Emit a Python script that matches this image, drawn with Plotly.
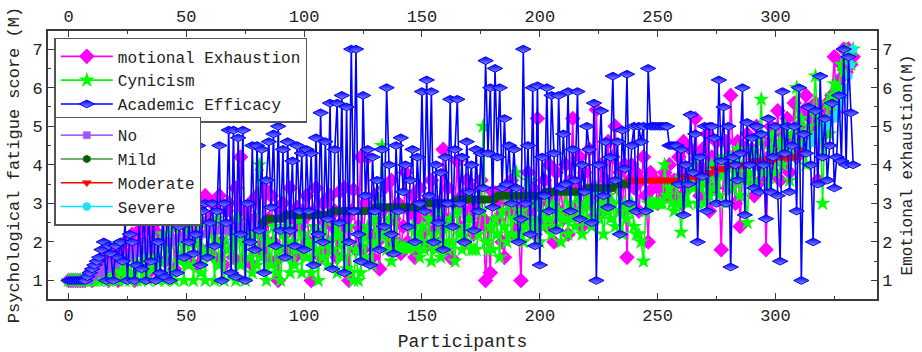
import plotly.graph_objects as go

# ---------------- data ----------------
x_ticks = [0, 50, 100, 150, 200, 250, 300]
y_ticks = [1, 2, 3, 4, 5, 6, 7]

emotional_exhaustion = [
    1.0, 1.0, 1.0, 1.0, 1.0, 1.0, 1.0, 1.0, 1.1, 1.2,
    1.0, 1.3, 1.1, 1.4, 1.2, 1.6, 1.3, 1.0, 1.7, 1.2,
    1.5, 1.0, 1.8, 1.3, 2.0, 1.2, 1.7, 2.2, 1.0, 1.9,
    2.3, 1.4, 2.0, 2.6, 1.2, 2.4, 1.6, 2.8, 2.2, 3.0,
    3.3, 1.5, 2.6, 2.0, 3.0, 1.3, 2.4, 2.8, 1.6, 3.0,
    2.2, 1.5, 2.7, 2.0, 3.1, 1.4, 2.5, 3.0, 3.2, 1.8,
    2.6, 3.0, 1.6, 2.4, 3.2, 2.0, 1.4, 2.8, 3.0, 2.3,
    1.6, 3.4, 2.6, 4.2, 1.5, 2.8, 2.2, 3.0, 1.4, 2.6,
    3.2, 1.8, 2.4, 3.4, 1.6, 2.6, 3.2, 2.0, 1.5, 1.0,
    2.8, 3.0, 2.2, 1.8, 3.4, 2.6, 1.6, 2.9, 2.4, 1.8,
    2.6, 3.2, 2.0, 1.0, 2.8, 3.4, 2.2, 1.6, 3.0, 2.5,
    1.8, 3.2, 2.4, 2.8, 1.6, 3.3, 2.0, 3.4, 2.6, 1.0,
    2.8, 3.35, 1.8, 2.4, 4.2, 1.8, 3.0, 4.2, 2.2, 1.6,
    3.2, 2.0, 1.3, 2.8, 3.4, 2.2, 1.8, 3.6, 2.6, 2.0,
    3.0, 1.7, 2.4, 3.8, 2.0, 2.8, 3.2, 1.6, 2.6, 3.4,
    2.2, 3.0, 1.9, 2.6, 3.6, 2.3, 2.8, 3.0, 2.0, 4.4,
    2.6, 3.4, 1.6, 1.55, 3.0, 4.1, 2.4, 3.2, 2.0, 3.6,
    2.8, 3.4, 2.2, 3.0, 2.4, 3.6, 2.6, 1.0, 2.4, 1.2,
    3.3, 3.27, 2.6, 3.0, 2.0, 1.6, 3.4, 2.8, 3.6, 2.2,
    3.0, 2.4, 1.0, 3.2, 2.6, 3.8, 2.8, 3.4, 2.2, 5.2,
    3.0, 2.6, 3.6, 2.4, 4.0, 3.2, 2.0, 3.8, 2.8, 3.4,
    2.6, 4.0, 2.2, 3.6, 5.2, 2.8, 3.4, 4.2, 2.4, 3.8,
    3.0, 4.4, 2.6, 3.4, 5.43, 3.2, 4.0, 2.8, 3.6, 4.6,
    3.0, 4.2, 5.0, 3.4, 3.8, 2.8, 4.0, 1.6, 3.6, 4.0,
    3.4, 3.8, 2.8, 3.6, 4.2, 3.2, 2.0, 3.8, 3.4, 3.6,
    3.0, 3.4, 3.6, 3.8, 3.2, 4.0, 3.4, 3.6, 3.2, 4.2,
    3.0, 4.6, 3.8, 3.4, 4.4, 3.6, 5.2, 4.0, 3.2, 4.4,
    3.6, 4.8, 2.8, 4.2, 3.4, 4.6, 3.8, 1.8, 4.0, 4.6,
    3.4, 5.8, 4.2, 3.0, 4.6, 2.4, 3.8, 4.4, 4.8, 3.6,
    4.4, 3.2, 5.0, 4.0, 3.6, 4.6, 1.8, 4.2, 5.0, 3.8,
    4.4, 5.4, 3.6, 4.8, 4.0, 5.2, 3.8, 4.6, 5.6, 4.2,
    5.0, 4.4, 5.4, 5.8, 4.6, 5.2, 4.8, 5.6, 3.6, 5.0,
    5.4, 4.8, 5.6, 5.2, 5.8, 6.8, 5.4, 6.2, 6.6, 7.0,
    6.4, 7.0, 6.6, 6.8,
]

cynicism = [
    1.0, 1.0, 1.0, 1.0, 1.0, 1.0, 1.0, 1.0, 1.0, 1.0,
    1.0, 1.0, 1.1, 1.0, 1.2, 1.0, 1.3, 1.0, 1.2, 1.0,
    1.4, 1.0, 1.2, 1.5, 1.0, 1.3, 1.0, 1.6, 1.2, 1.0,
    1.4, 1.0, 1.8, 1.2, 1.0, 1.6, 1.3, 2.0, 1.0, 1.5,
    2.2, 1.0, 1.8, 2.4, 1.2, 1.0, 2.6, 1.5, 2.0, 1.0,
    2.4, 1.4, 2.8, 1.0, 2.0, 2.6, 1.2, 1.8, 1.0, 2.4,
    1.6, 2.2, 1.0, 2.6, 1.4, 2.0, 1.0, 2.4, 1.8, 1.2,
    2.2, 1.0, 2.6, 1.4, 2.0, 1.0, 2.4, 1.6, 1.2, 2.2,
    1.4, 4.0, 1.6, 2.2, 1.0, 2.0, 1.4, 2.4, 1.2, 1.8,
    1.0, 2.2, 1.6, 2.4, 1.2, 2.0, 1.4, 1.8, 2.6, 1.2,
    2.2, 1.6, 2.0, 1.2, 2.4, 1.8, 1.0, 2.2, 1.6, 2.6,
    1.4, 2.0, 1.8, 2.4, 1.2, 2.2, 1.6, 2.0, 1.3, 2.4,
    1.2, 1.0, 1.8, 1.0, 1.2, 2.2, 1.6, 2.4, 2.0, 1.4,
    2.6, 2.0, 3.0, 4.5, 2.2, 1.8, 2.6, 1.5, 2.0, 2.8,
    1.8, 1.85, 1.85, 1.85, 1.85, 1.85, 2.4, 1.85, 2.2, 1.6,
    2.4, 1.8, 2.0, 2.6, 1.5, 2.2, 1.8, 2.8, 1.6, 2.0,
    2.4, 1.8, 2.6, 2.0, 1.5, 2.8, 2.2, 1.8, 2.4, 2.0,
    2.6, 1.8, 1.8, 1.8, 2.2, 2.8, 5.0, 2.0, 1.8, 2.4,
    1.8, 2.6, 2.2, 1.6, 2.8, 2.4, 2.0, 3.0, 2.2, 2.6,
    3.8, 2.2, 2.8, 2.0, 2.4, 3.6, 2.6, 2.2, 3.0, 2.4,
    2.0, 2.8, 2.4, 3.2, 2.6, 2.2, 3.0, 2.4, 2.8, 2.0,
    2.6, 3.4, 2.2, 3.0, 2.6, 2.4, 3.2, 2.8, 2.2, 3.0,
    2.6, 3.2, 2.4, 2.8, 3.4, 2.6, 3.0, 2.2, 2.8, 3.2,
    2.6, 3.0, 2.4, 3.6, 2.8, 2.2, 3.0, 2.6, 2.8, 3.0,
    2.4, 2.2, 2.2, 2.0, 1.5, 2.8, 3.0, 3.0, 3.0, 3.0,
    3.0, 3.0, 3.0, 4.0, 3.2, 3.4, 3.0, 2.8, 3.6, 3.0,
    2.25, 3.2, 3.6, 3.0, 3.8, 3.4, 4.2, 3.0, 3.4, 3.6,
    3.0, 3.8, 3.2, 4.0, 3.4, 3.6, 3.2, 4.2, 3.8, 3.0,
    3.6, 4.2, 3.4, 3.8, 4.4, 3.2, 4.0, 3.6, 2.5, 3.8,
    4.4, 3.6, 4.2, 4.6, 5.7, 3.8, 4.0, 3.5, 4.4, 4.8,
    3.8, 4.2, 4.6, 4.0, 5.0, 4.4, 3.6, 4.8, 4.2, 6.0,
    4.6, 5.2, 4.4, 4.0, 5.0, 4.6, 5.4, 6.3, 4.8, 5.2,
    3.0, 5.0, 5.6, 4.8, 5.8, 6.1, 5.4, 6.0, 6.6, 6.4,
    7.0, 6.8, 6.6, 7.0,
]

academic_efficacy = [
    1.0, 1.0, 1.0, 1.0, 1.0, 1.0, 1.0, 1.0, 1.1, 1.2,
    1.3, 1.4, 1.5, 1.6, 1.8, 2.0, 1.0, 1.9, 1.7, 1.0,
    1.9, 1.6, 2.0, 1.5, 2.5, 1.0, 2.2, 2.0, 1.0, 1.4,
    2.5, 1.3, 3.0, 1.0, 2.7, 1.5, 2.6, 1.0, 2.0, 1.2,
    2.7, 1.1, 3.3, 1.0, 2.6, 3.4, 1.2, 2.4, 4.2, 1.6,
    4.2, 2.0, 3.0, 1.7, 2.2, 4.5, 1.4, 2.8, 3.0, 1.6,
    2.5, 3.0, 1.9, 2.8, 4.5, 1.0, 3.0, 2.5, 4.9, 1.2,
    4.9, 1.1, 4.7, 2.2, 4.9, 1.0, 3.0, 2.0, 4.5, 1.8,
    4.5, 2.3, 4.4, 1.2, 3.6, 4.6, 2.9, 4.8, 1.9, 5.0,
    2.3, 4.4, 1.6, 4.6, 2.3, 4.1, 1.9, 4.5, 2.8, 4.3,
    1.8, 4.4, 2.8, 4.3, 1.4, 4.7, 2.2, 5.35, 2.0, 4.6,
    2.6, 5.6, 1.3, 4.4, 5.6, 2.5, 5.8, 1.2, 5.5, 2.0,
    7.0, 2.8, 7.0, 2.2, 1.5, 5.8, 3.2, 4.4, 1.4, 4.2,
    2.8, 3.6, 1.8, 4.4, 2.4, 6.0, 4.0, 2.2, 1.7, 4.5,
    2.8, 4.7, 3.3, 4.0, 2.4, 3.6, 4.4, 2.0, 4.2, 3.0,
    5.9, 2.8, 6.2, 3.2, 5.9, 2.0, 4.0, 2.5, 3.8, 1.8,
    4.2, 3.0, 5.7, 2.4, 4.4, 5.7, 3.0, 4.2, 2.0, 4.6,
    3.3, 4.0, 2.3, 4.4, 2.8, 4.3, 3.4, 6.7, 4.3, 6.0,
    2.9, 6.5, 4.2, 6.0, 3.4, 5.2, 3.5, 4.5, 3.0, 4.4,
    3.4, 2.0, 2.6, 7.0, 3.0, 4.5, 2.2, 6.0, 1.9, 6.05,
    1.4, 4.2, 3.2, 6.0, 2.8, 5.8, 4.3, 2.3, 5.8, 3.4,
    4.8, 3.5, 5.9, 2.8, 4.4, 3.6, 5.9, 2.6, 4.0, 3.3,
    5.0, 4.4, 2.5, 5.6, 1.0, 4.0, 5.4, 3.2, 4.6, 2.9,
    4.2, 6.3, 3.6, 4.6, 2.2, 4.9, 3.9, 6.35, 3.0, 4.5,
    5.0, 2.8, 5.0, 4.6, 5.0, 2.8, 6.5, 5.0, 5.0, 5.0,
    5.0, 5.0, 5.0, 5.0, 5.0, 4.5, 4.5, 4.5, 4.5, 3.5,
    4.4, 2.7, 4.0, 3.5, 5.3, 3.8, 4.8, 2.0, 4.2, 3.7,
    5.0, 2.8, 5.0, 5.0, 4.7, 3.0, 6.2, 4.1, 5.5, 3.0,
    5.0, 1.35, 4.2, 4.0, 3.6, 4.3, 6.0, 2.7, 5.1, 4.0,
    4.7, 3.4, 5.0, 3.3, 4.8, 4.0, 2.6, 5.2, 3.3, 4.2,
    5.0, 3.2, 1.5, 5.9, 4.3, 5.0, 3.3, 4.5, 5.0, 2.8,
    6.0, 1.0, 4.8, 4.3, 5.5, 4.0, 2.0, 5.4, 3.5, 6.3,
    4.2, 5.2, 3.6, 4.5, 5.6, 3.4, 4.2, 5.8, 4.1, 7.0,
    4.0, 6.8, 5.35, 4.0,
]

# sorted emotional exhaustion, split by severity group (right axis)
ee_no = [
    1.0, 1.0, 1.0, 1.0, 1.0, 1.0, 1.0, 1.0, 1.0, 1.0,
    1.1, 1.1, 1.2, 1.2, 1.2, 1.3, 1.3, 1.3, 1.4, 1.4,
    1.4, 1.5, 1.5, 1.5, 1.6, 1.6, 1.6, 1.7, 1.7, 1.7,
    1.8, 1.8, 1.8, 1.8, 1.9, 1.9, 1.9, 1.9, 2.0, 2.0,
    2.0, 2.0, 2.0, 2.0, 2.0, 2.1, 2.1, 2.1, 2.1, 2.1,
    2.1, 2.1, 2.2, 2.2, 2.2, 2.2, 2.2, 2.2, 2.2, 2.3,
    2.3, 2.3, 2.3, 2.3, 2.3, 2.3, 2.3, 2.3, 2.3, 2.4,
    2.4, 2.4, 2.4, 2.4, 2.4, 2.4, 2.4, 2.4, 2.4, 2.4,
    2.4, 2.4,
]
ee_mild = [
    2.5, 2.5, 2.6, 2.6, 2.6, 2.6, 2.6, 2.6,
    2.6, 2.6, 2.7, 2.7, 2.7, 2.7, 2.7, 2.7, 2.7, 2.7,
    2.7, 2.7, 2.7, 2.7, 2.7, 2.7, 2.7, 2.7, 2.7, 2.7,
    2.7, 2.7, 2.8, 2.8, 2.8, 2.8, 2.8, 2.8, 2.8, 2.8,
    2.8, 2.8, 2.8, 2.8, 2.8, 2.8, 2.8, 2.8, 2.8, 2.8,
    2.9, 2.9, 2.9, 2.9, 2.9, 2.9, 2.9, 2.9, 2.9, 2.9,
    2.9, 2.9, 2.9, 2.9, 2.9, 2.9, 2.9, 2.9, 2.9, 2.9,
    3.0, 3.0, 3.0, 3.0, 3.0, 3.0, 3.0, 3.0, 3.0, 3.0,
    3.0, 3.0, 3.0, 3.0, 3.0, 3.1, 3.1, 3.1, 3.1, 3.1,
    3.1, 3.1, 3.1, 3.1, 3.1, 3.1, 3.1, 3.1, 3.1, 3.1,
    3.1, 3.1, 3.2, 3.2, 3.2, 3.2, 3.2, 3.2, 3.2, 3.2,
    3.2, 3.2, 3.2, 3.2, 3.2, 3.2, 3.2, 3.2, 3.2, 3.2,
    3.2, 3.2, 3.3, 3.3, 3.3, 3.3, 3.3, 3.3, 3.3, 3.3,
    3.3, 3.3, 3.3, 3.3, 3.3, 3.3, 3.3, 3.3, 3.3, 3.3,
    3.4, 3.4, 3.4, 3.4, 3.4, 3.4, 3.4, 3.4, 3.4, 3.4,
    3.4, 3.4, 3.5, 3.5, 3.5, 3.5, 3.5, 3.5,
]
ee_moderate = [
    3.6, 3.6,
    3.6, 3.6, 3.6, 3.6, 3.6, 3.6, 3.6, 3.6, 3.6, 3.6,
    3.6, 3.6, 3.6, 3.6, 3.6, 3.6, 3.6, 3.6, 3.6, 3.6,
    3.7, 3.7, 3.7, 3.7, 3.7, 3.7, 3.7, 3.7, 3.7, 3.7,
    3.8, 3.8, 3.8, 3.8, 3.9, 3.9, 3.9, 3.9, 3.9, 3.9,
    4.0, 4.0, 4.0, 4.0, 4.0, 4.0, 4.0, 4.0, 4.0, 4.0,
    4.1, 4.1, 4.1, 4.1, 4.1, 4.1, 4.1, 4.1, 4.1, 4.1,
    4.2, 4.2, 4.2, 4.2, 4.2, 4.2, 4.2, 4.2, 4.2, 4.2,
    4.3, 4.3, 4.4,
]
ee_severe = [
    4.5, 4.5, 4.6, 4.6, 4.7, 4.8, 4.8, 4.9, 5.0, 5.0,
    5.1, 5.2, 5.2, 5.3, 5.5, 5.6, 5.8, 6.0, 6.3, 6.6, 7.0,
]

# ---------------- figure ----------------
FONT = "Liberation Mono"
TXT = "#222222"
AX = "#3a3a3a"
x_range = [-8.7, 343.1]
y_range = [0.52, 7.47]

fig = go.Figure()

idx = list(range(len(emotional_exhaustion)))
fig.add_trace(go.Scatter(
    x=idx, y=emotional_exhaustion, name="motional Exhaustion",
    mode="lines+markers", line=dict(color="#ff00ff", width=1.6),
    marker=dict(symbol="diamond", size=12, color="#ff00ff"),
    legend="legend", xaxis="x", yaxis="y"))

idx = list(range(len(cynicism)))
fig.add_trace(go.Scatter(
    x=idx, y=cynicism, name="Cynicism",
    mode="lines+markers", line=dict(color="#00ff00", width=1.6),
    marker=dict(symbol="star", size=12, color="#00ff00"),
    legend="legend", xaxis="x", yaxis="y"))

groups = [
    ("No", ee_no, "#8a2be2", "#a050ff", "square", 7),
    ("Mild", ee_mild, "#3c9a3c", "#0a5a0a", "hexagon", 8),
    ("Moderate", ee_moderate, "#ff0000", "#ff0000", "triangle-down", 8),
    ("Severe", ee_severe, "#00e5ff", "#20e0ff", "circle", 8),
]
start = 0
for name, vals, lc, mc, sym, sz in groups:
    xs = list(range(start, start + len(vals)))
    start += len(vals)
    fig.add_trace(go.Scatter(
        x=xs, y=vals, name=name, mode="lines+markers",
        line=dict(color=lc, width=1.4),
        marker=dict(symbol=sym, size=sz, color=mc,
                    line=dict(color=mc, width=0.5)),
        legend="legend2", xaxis="x2", yaxis="y2"))

idx = list(range(len(academic_efficacy)))
fig.add_trace(go.Scatter(
    x=idx, y=academic_efficacy, name="Academic Efficacy",
    mode="lines+markers", line=dict(color="#0000ff", width=1.6),
    marker=dict(symbol="diamond-wide", size=11, color="#0000ff",
                gradient=dict(type="vertical", color="#8c8cff"),
                line=dict(color="#0000ff", width=1)),
    legend="legend", xaxis="x2", yaxis="y2"))

common_axis = dict(
    showline=True, linecolor=AX, linewidth=1.6, mirror=False,
    showgrid=False, zeroline=False,
    ticks="inside", ticklen=6, tickwidth=1.3, tickcolor=AX,
    tickfont=dict(family=FONT, size=17, color=TXT),
)

LEG_FONT = 16

fig.update_layout(
    width=922, height=352,
    margin=dict(l=48, r=45, t=31, b=53, autoexpand=False),
    paper_bgcolor="white", plot_bgcolor="white",
    font=dict(family=FONT, size=17, color=TXT),
    showlegend=True,
    xaxis=dict(range=x_range, tickvals=x_ticks, **common_axis,
               minor=dict(tickvals=[25, 75, 125, 175, 225, 275, 325],
                          ticks="inside", ticklen=3, tickcolor=AX),
               title=dict(text="Participants", font=dict(family=FONT, size=18, color=TXT),
                          standoff=10)),
    xaxis2=dict(range=x_range, tickvals=x_ticks, overlaying="x", side="top",
                anchor="y2", **common_axis,
                minor=dict(tickvals=[25, 75, 125, 175, 225, 275, 325],
                           ticks="inside", ticklen=3, tickcolor=AX)),
    yaxis=dict(range=y_range, tickvals=y_ticks, **common_axis,
               minor=dict(dtick=0.5, tick0=0.5, ticks="inside", ticklen=3, tickcolor=AX),
               title=dict(text="Psychological fatigue score (M)",
                          font=dict(family=FONT, size=17, color=TXT), standoff=9)),
    yaxis2=dict(range=y_range, tickvals=y_ticks, overlaying="y", side="right",
                anchor="x2", **common_axis,
                minor=dict(dtick=0.5, tick0=0.5, ticks="inside", ticklen=3, tickcolor=AX),
                title=dict(text="Emotional exhaustion(M)",
                           font=dict(family=FONT, size=16, color=TXT), standoff=9)),
    legend=dict(x=0.0076, y=0.974, xanchor="left", yanchor="top",
                bgcolor="white", bordercolor="#555555", borderwidth=1.5,
                font=dict(family=FONT, size=LEG_FONT, color=TXT),
                itemwidth=52, tracegroupgap=0, traceorder="normal"),
    legend2=dict(x=0.0076, y=0.68, xanchor="left", yanchor="top",
                 bgcolor="white", bordercolor="#555555", borderwidth=1.5,
                 font=dict(family=FONT, size=LEG_FONT, color=TXT),
                 itemwidth=52, tracegroupgap=0, traceorder="normal"),
)

fig.write_html("out.html", config={"displayModeBar": False},
               post_script="document.body.style.margin='0';document.body.style.overflow='hidden';")
